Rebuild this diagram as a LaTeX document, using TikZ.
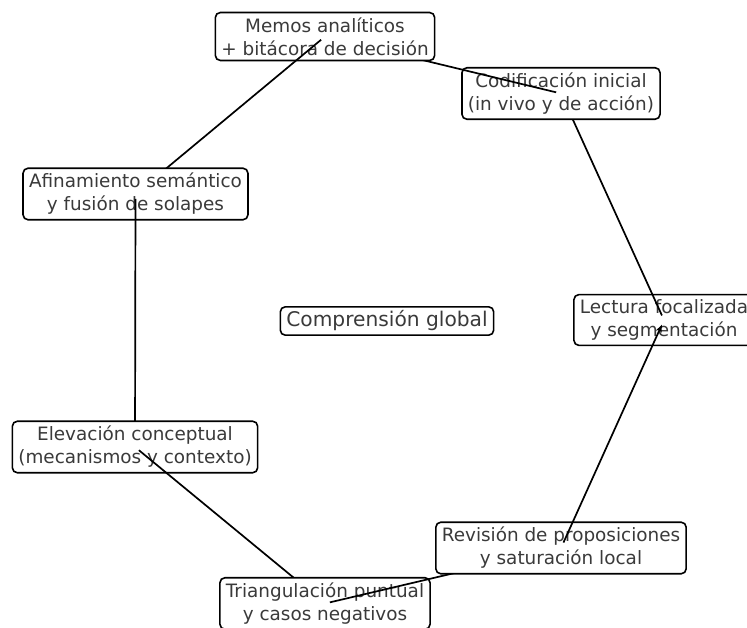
\documentclass[tikz,border=0pt]{standalone}
\usepackage{fontspec}
\setmainfont{DejaVu Sans}
\usetikzlibrary{arrows.meta}
\pgfdeclarelayer{l0}\pgfdeclarelayer{l1}\pgfdeclarelayer{l2}\pgfdeclarelayer{l3}
\pgfdeclarelayer{l4}\pgfdeclarelayer{l5}\pgfdeclarelayer{l6}\pgfdeclarelayer{l7}
\pgfdeclarelayer{l8}\pgfdeclarelayer{l9}\pgfdeclarelayer{l10}\pgfdeclarelayer{l11}
\pgfdeclarelayer{l12}\pgfdeclarelayer{l13}
\pgfsetlayers{l0,l1,l2,l3,l4,l5,l6,l7,l8,l9,l10,l11,l12,l13,main}
\definecolor{txt}{HTML}{3A3A3A}
\tikzset{
  box/.style={draw=black, line width=1.6pt, rounded corners=5pt, fill=white,
    text=txt, align=center, inner xsep=6pt, inner ysep=5pt,
    font=\fontsize{18.4}{23}\selectfont},
  bigbox/.style={box, inner ysep=4pt, font=\fontsize{20.2}{24}\selectfont},
  edge/.style={draw=black, line width=1.7pt, shorten >=5pt},
}
\begin{document}
\begin{tikzpicture}[x=1pt,y=-1pt]
\useasboundingbox (0,0) rectangle (747,628);
\begin{pgfonlayer}{l0}
\fill[white] (0,0) rectangle (747,628);
\end{pgfonlayer}
\begin{pgfonlayer}{l1}
\node[box] (lec) at (664,320) {Lectura focalizada\\y segmentación};
\end{pgfonlayer}
\begin{pgfonlayer}{l3}
\node[box] (cod) at (561,93.5) {Codificación inicial\\(in vivo y de acción)};
\end{pgfonlayer}
\begin{pgfonlayer}{l5}
\node[box] (mem) at (325,36.5) {Memos analíticos\\+ bitácora de decisión};
\end{pgfonlayer}
\begin{pgfonlayer}{l7}
\node[box] (afi) at (135.5,194) {Afinamiento semántico\\y fusión de solapes};
\end{pgfonlayer}
\begin{pgfonlayer}{l9}
\node[box] (ele) at (135,447) {Elevación conceptual\\(mecanismos y contexto)};
\end{pgfonlayer}
\begin{pgfonlayer}{l11}
\node[box] (tri) at (325,603.5) {Triangulación puntual\\y casos negativos};
\end{pgfonlayer}
\begin{pgfonlayer}{l13}
\node[box] (rev) at (561,548) {Revisión de proposiciones\\y saturación local};
\end{pgfonlayer}
\node[bigbox] (com) at (387,321) {Comprensión global};
% edges
\begin{pgfonlayer}{l2}
\draw[edge] (cod.center) -- (lec.center);
\end{pgfonlayer}
\begin{pgfonlayer}{l4}
\draw[edge] (mem.center) -- (cod.center);
\end{pgfonlayer}
\begin{pgfonlayer}{l6}
\draw[edge] (afi.center) -- (mem.center);
\end{pgfonlayer}
\begin{pgfonlayer}{l8}
\draw[edge] (ele.center) -- (afi.center);
\end{pgfonlayer}
\begin{pgfonlayer}{l10}
\draw[edge] (tri.center) -- (ele.center);
\end{pgfonlayer}
\begin{pgfonlayer}{l12}
\draw[edge] (rev.center) -- (tri.center);
\end{pgfonlayer}
\draw[edge, shorten <=6pt, -{Stealth[length=8pt,width=6pt]}] (rev.center) -- (lec.center);
\end{tikzpicture}
\end{document}
